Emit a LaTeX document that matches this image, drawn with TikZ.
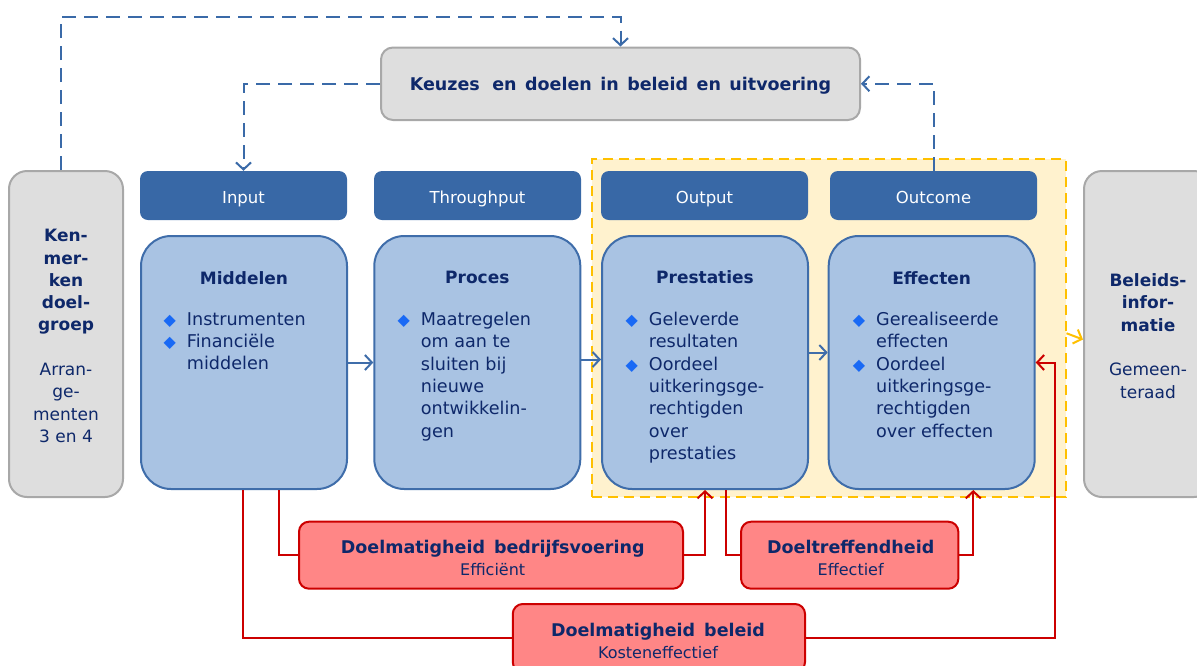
\documentclass[tikz,border=0pt]{standalone}
\usepackage{fontspec}
\setmainfont{DejaVu Sans}
\usetikzlibrary{arrows.meta}
\definecolor{hdrc}{RGB}{56,104,166}
\definecolor{boxf}{RGB}{169,195,227}
\definecolor{boxd}{RGB}{63,109,170}
\definecolor{navy}{RGB}{14,40,106}
\definecolor{grayf}{RGB}{222,222,222}
\definecolor{grayb}{RGB}{168,168,168}
\definecolor{redf}{RGB}{255,134,134}
\definecolor{redd}{RGB}{204,0,0}
\definecolor{yelf}{RGB}{255,242,206}
\definecolor{yeld}{RGB}{255,192,0}
\definecolor{bulc}{RGB}{25,105,245}
\definecolor{dblue}{RGB}{58,106,168}
\newcommand{\bul}{\llap{\textcolor{bulc}{\fontsize{16}{16}\selectfont ◆}\hspace{11pt}}}
\newcommand{\wordsp}[1]{\spaceskip=#1\relax}
\begin{document}
\begin{tikzpicture}[x=1pt,y=-1pt,
  gbox/.style={draw=grayb, fill=grayf, line width=2pt, rounded corners=18pt, inner sep=0},
  hdr/.style={fill=hdrc, rounded corners=8pt, text=white, font=\fontsize{16.5}{20}\selectfont, minimum height=49pt, minimum width=207pt, inner sep=0, text height=15pt, text depth=0pt},
  mbox/.style={draw=boxd, fill=boxf, line width=2pt, rounded corners=30pt, minimum width=206pt, minimum height=253pt, inner sep=0},
  rbox/.style={draw=redd, fill=redf, line width=2pt, rounded corners=10pt, inner sep=0},
  ttl/.style={text=navy, font=\fontsize{17}{22}\selectfont\bfseries, inner sep=0},
  body/.style={text=navy, font=\fontsize{17.6}{22.3}\selectfont, align=left, anchor=north west, inner sep=0},
  side/.style={text=navy, font=\fontsize{17}{22.3}\selectfont, align=center, inner sep=0},
  rtxt/.style={text=navy, font=\fontsize{17.5}{22.6}\selectfont\wordsp{9pt}, align=center, inner sep=0},
  bdash/.style={draw=dblue, line width=2pt, dash pattern=on 14pt off 8pt},
  rline/.style={draw=redd, line width=2pt},
  bline/.style={draw=boxd, line width=2pt},
  tip/.style={-{Straight Barb[length=7pt,width=15pt,line width=2pt]}}
]
\useasboundingbox (0,0) rectangle (1197,665);
\clip (0,0) rectangle (1197,665);

% yellow region
\node[draw=yeld, fill=yelf, line width=2pt, dash pattern=on 10pt off 6pt, minimum width=474pt, minimum height=337.5pt, inner sep=0] (yel) at (828.5,327.75) {};

% side boxes
\node[gbox, minimum width=114pt, minimum height=326pt] (ken) at (66,334) {};
\node[gbox, minimum width=128pt, minimum height=326pt] (bel) at (1148,334) {};
\node[side] (kentxt) at (66,336) {\textbf{Ken-}\\\textbf{mer-}\\\textbf{ken}\\\textbf{doel-}\\\textbf{groep}\\[22.3pt]Arran-\\ge-\\menten\\3 en 4};
\node[side] (beltxt) at (1148,336) {\textbf{Beleids-}\\\textbf{infor-}\\\textbf{matie}\\[22.3pt]Gemeen-\\teraad};

% top box
\node[gbox, rounded corners=12pt, minimum width=479pt, minimum height=72.5pt, text=navy, font=\fontsize{17.5}{22}\selectfont\bfseries\wordsp{8.5pt}, text height=13pt, text depth=0pt] (keu) at (620.5,83.75) {Keuzes\hspace{4pt} en doelen in beleid en uitvoering};

% headers
\node[hdr] (inp) at (243.5,195.5) {Input};
\node[hdr] (thr) at (477.5,195.5) {Throughput};
\node[hdr] (outp) at (704.5,195.5) {Output};
\node[hdr] (outc) at (933.5,195.5) {Outcome};

% main boxes
\node[mbox] (mid) at (244,362.5) {};
\node[mbox] (pro) at (477.3,362.5) {};
\node[mbox] (pre) at (705,362.5) {};
\node[mbox] (eff) at (931.7,362.5) {};

\node[ttl] (midt) at (244,277.7) {Middelen};
\node[ttl] (prot) at (477.3,277.7) {Proces};
\node[ttl] (pret) at (705,276.7) {Prestaties};
\node[ttl] (efft) at (931.7,277.7) {Effecten};

\node[body] (midb) at (186.7,312) {\bul Instrumenten\\\bul Financiële\\middelen};
\node[body] (prob) at (420.7,312) {\bul Maatregelen\\om aan te\\sluiten bij\\nieuwe\\ontwikkelin-\\gen};
\node[body] (preb) at (648.7,312) {\bul Geleverde\\resultaten\\\bul Oordeel\\uitkeringsge-\\rechtigden\\over\\prestaties};
\node[body] (effb) at (876,312) {\bul Gerealiseerde\\effecten\\\bul Oordeel\\uitkeringsge-\\rechtigden\\over effecten};

% red boxes
\node[rbox, minimum width=384pt, minimum height=67pt] (r1) at (491,555.2) {};
\node[rbox, minimum width=217.3pt, minimum height=67pt] (r2) at (849.7,555.2) {};
\node[rbox, minimum width=292.3pt, minimum height=68pt] (r3) at (658.9,638) {};
\node[rtxt] (r1t) at (492.7,558) {\textbf{Doelmatigheid bedrijfsvoering}\\{\fontsize{16}{22.6}\selectfont Efficiënt}};
\node[rtxt] (r2t) at (850.7,558) {\textbf{Doeltreffendheid}\\{\fontsize{16}{22.6}\selectfont Effectief}};
\node[rtxt] (r3t) at (658,641) {\textbf{Doelmatigheid beleid}\\{\fontsize{16}{22.6}\selectfont Kosteneffectief}};

% dashed blue connectors
\draw[bdash,tip] ([xshift=-5pt]ken.north) |- (keu.north |- 0,17) -- (keu.north);
\draw[bdash,tip] (keu.west) -| (inp.north);
\draw[bdash,tip] (outc.north) |- (keu.east);

% flow arrows
\draw[bline,tip] (mid.east) -- (pro.west);
\draw[bline,tip] ([yshift=3pt]pro.east) -- ([yshift=3pt]pre.west);
\draw[bline,tip] ([yshift=10pt]pre.east) -- ([yshift=10pt]eff.west);

% orange arrow
\draw[draw=yeld, line width=2pt, tip] ([yshift=-5.5pt]yel.east) -- ([yshift=-5.5pt]bel.west);

% red connectors
\draw[rline] ([xshift=35pt]mid.south) |- (r1.west);
\draw[rline,tip] (r1.east) -| (pre.south);
\draw[rline] ([xshift=20.7pt]pre.south) |- (r2.west);
\draw[rline,tip] (r2.east) -| ([xshift=41.6pt]eff.south);
\draw[rline] ([xshift=-0.7pt]mid.south) |- (r3.west);
\draw[rline,tip] (r3.east) -| ([xshift=19pt]eff.east) -- (eff.east);
\end{tikzpicture}
\end{document}
